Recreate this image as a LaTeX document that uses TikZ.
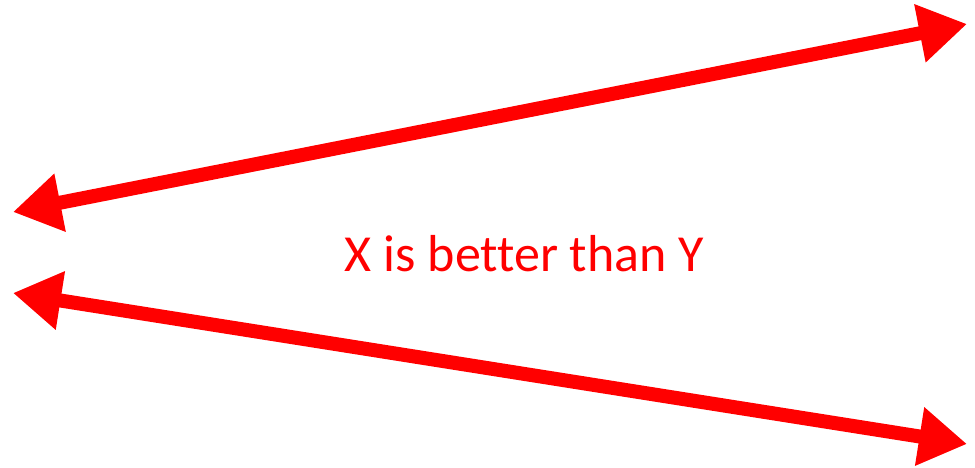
\documentclass[tikz,border=0pt]{standalone}
\usepackage{fontspec}
\setmainfont[Ligatures={NoCommon}]{Carlito}
\usetikzlibrary{arrows.meta}
\definecolor{arrred}{RGB}{255,0,0}
\tikzset{
  dbl/.style={draw=arrred, line width=14pt, {Triangle[length=48pt,width=56pt]}-{Triangle[length=48pt,width=56pt]}},
  lbl/.style={text=arrred, font=\fontsize{52pt}{56pt}\selectfont, inner sep=0pt, anchor=base}
}
\begin{document}
\begin{tikzpicture}[x=1pt,y=1pt]
\useasboundingbox (0,0) rectangle (975,468);
\coordinate (ul) at (13,256);
\coordinate (ur) at (967,444);
\coordinate (ll) at (13,175);
\coordinate (lr) at (967,24);
\draw[dbl] (ul) -- (ur);
\draw[dbl] (ll) -- (lr);
\node[lbl] (t) at (524.5,196) {X is better than Y};
\end{tikzpicture}
\end{document}
